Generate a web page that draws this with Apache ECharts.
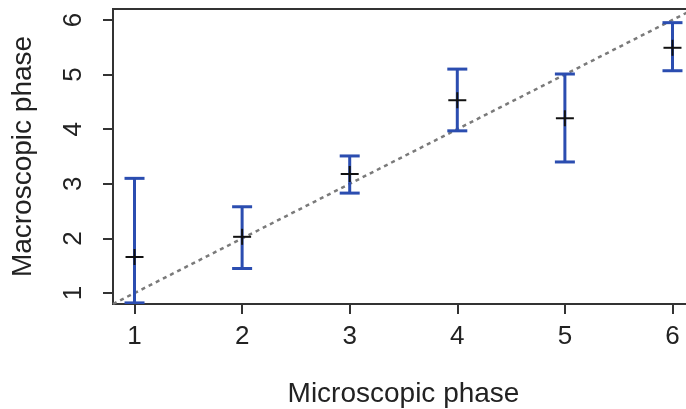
<!DOCTYPE html>
<html lang="en">
<head>
<meta charset="UTF-8">
<title>Microscopic vs macroscopic phase</title>
<script src="https://cdn.jsdelivr.net/npm/echarts@6.0.0/dist/echarts.min.js"></script>
<style>
    html, body { margin: 0; padding: 0; background: #fff; }
    #chart { width: 686px; height: 409px; }
</style>
</head>
<body>
<div id="chart"></div>

<script>
    // values
    const phases = [1, 2, 3, 4, 5, 6];
    const means  = [1.66, 2.03, 3.18, 4.53, 4.20, 5.49];
    const lows   = [0.82, 1.45, 2.83, 3.97, 3.40, 5.07];
    const highs  = [3.10, 2.58, 3.51, 5.10, 5.01, 5.95];
    const xTicks = [1, 2, 3, 4, 5, 6];
    const yTicks = [1, 2, 3, 4, 5, 6];
    // identity line y = x across the plot range
    const refLine = [[0.8, 0.8], [6.2, 6.2]];

    const font = 'Liberation Sans, Arial, sans-serif';
    const barColor = '#2b4db0';

    function renderErrorBar(params, api) {
        const x = api.value(0);
        const lo = api.coord([x, api.value(1)]);
        const hi = api.coord([x, api.value(2)]);
        const mid = api.coord([x, api.value(3)]);
        const cap = 10;
        const bar = { stroke: barColor, lineWidth: 3 };
        const cross = { stroke: '#111', lineWidth: 2 };
        return {
            type: 'group',
            children: [
                { type: 'line', shape: { x1: lo[0], y1: lo[1], x2: hi[0], y2: hi[1] }, style: bar },
                { type: 'line', shape: { x1: hi[0] - cap, y1: hi[1], x2: hi[0] + cap, y2: hi[1] }, style: bar },
                { type: 'line', shape: { x1: lo[0] - cap, y1: lo[1], x2: lo[0] + cap, y2: lo[1] }, style: bar },
                { type: 'line', shape: { x1: mid[0] - 9, y1: mid[1], x2: mid[0] + 9, y2: mid[1] }, style: cross },
                { type: 'line', shape: { x1: mid[0], y1: mid[1] - 8, x2: mid[0], y2: mid[1] + 8 }, style: cross }
            ]
        };
    }

    const chart = echarts.init(document.getElementById('chart'));
    chart.setOption({
        animation: false,
        backgroundColor: '#fff',
        grid: {
            left: 113, top: 9, width: 581, height: 295,
            outerBoundsMode: 'none',
            show: true, borderColor: '#333', borderWidth: 2, backgroundColor: 'transparent'
        },
        xAxis: {
            type: 'value', min: 0.8, max: 6.2,
            name: 'Microscopic phase', nameLocation: 'middle', nameGap: 76,
            nameTextStyle: { fontFamily: font, fontSize: 28, color: '#222' },
            axisLine: { show: true, lineStyle: { color: '#333', width: 2 } },
            axisTick: { show: true, length: 10, customValues: xTicks, lineStyle: { color: '#333', width: 2 } },
            axisLabel: { customValues: xTicks, margin: 20, fontFamily: font, fontSize: 26, color: '#222' },
            splitLine: { show: false }
        },
        yAxis: {
            type: 'value', min: 0.8, max: 6.2,
            name: 'Macroscopic phase', nameLocation: 'middle', nameGap: 76,
            nameTextStyle: { fontFamily: font, fontSize: 28, color: '#222' },
            axisLine: { show: true, lineStyle: { color: '#333', width: 2 } },
            axisTick: { show: true, length: 10, customValues: yTicks, lineStyle: { color: '#333', width: 2 } },
            axisLabel: { customValues: yTicks, rotate: 90, margin: 26, fontFamily: font, fontSize: 26, color: '#222' },
            splitLine: { show: false }
        },
        series: [
            {
                type: 'line',
                data: refLine,
                symbol: 'none',
                silent: true,
                lineStyle: { color: '#7a7a7a', width: 2.5, type: [4, 4] },
                z: 1
            },
            {
                type: 'custom',
                clip: true,
                renderItem: renderErrorBar,
                data: phases.map((p, i) => [p, lows[i], highs[i], means[i]]),
                z: 2
            }
        ]
    });
</script>
</body>
</html>
